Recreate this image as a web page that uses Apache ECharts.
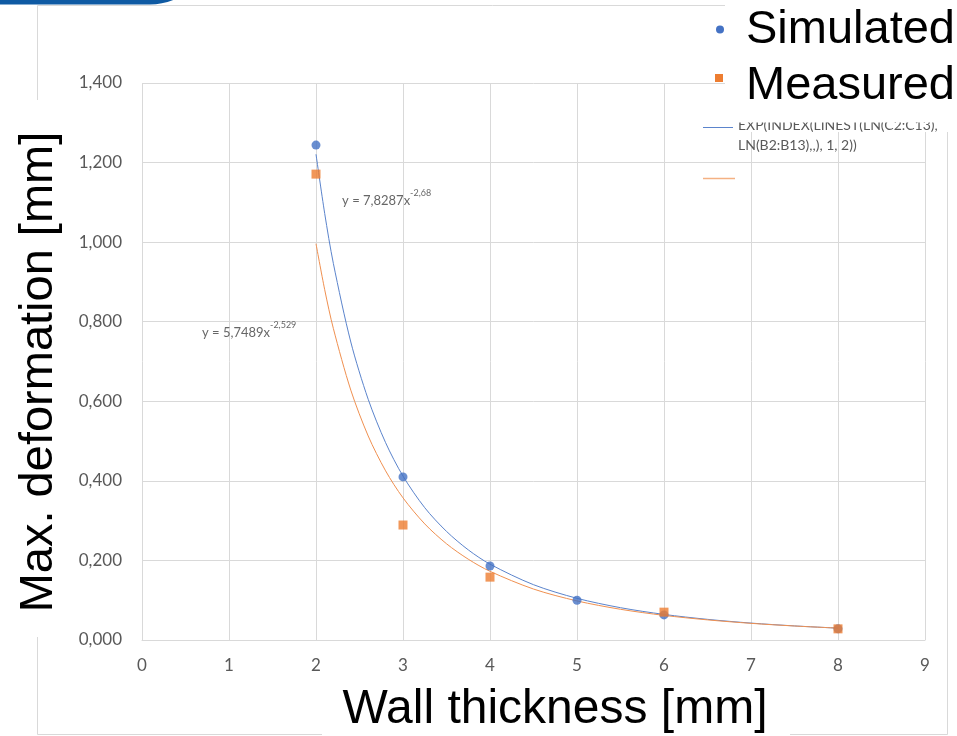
<!DOCTYPE html>
<html><head><meta charset="utf-8">
<script src="https://cdn.jsdelivr.net/npm/echarts@6/dist/echarts.min.js"></script>
<style>html,body{margin:0;padding:0;background:#fff}#c{width:957px;height:736px}</style>
</head><body><div id="c"></div>
<script>
// ---- data ----
const wallThickness = [2, 3, 4, 5, 6, 8];
const simulated = [1.244, 0.410, 0.186, 0.100, 0.063, 0.028];
const measuredX = [2, 3, 4, 6, 8];
const measured = [1.171, 0.289, 0.158, 0.070, 0.028];
const trendX = [2, 2.1, 2.2, 2.4, 2.6, 2.8, 3, 3.25, 3.5, 3.75, 4, 4.5, 5, 5.5, 6, 6.5, 7, 7.5, 8];
const trendSimulated = [1.221, 1.072, 0.946, 0.749, 0.605, 0.496, 0.412, 0.3325, 0.273, 0.2266, 0.1906, 0.139, 0.1048, 0.0812, 0.0643, 0.0519, 0.0425, 0.0354, 0.0298];
const trendMeasured = [0.996, 0.8805, 0.7826, 0.628, 0.5128, 0.4252, 0.3573, 0.2918, 0.2419, 0.2031, 0.1726, 0.1281, 0.0982, 0.0772, 0.0619, 0.0506, 0.0419, 0.0352, 0.0299];
const xTicks = [0, 1, 2, 3, 4, 5, 6, 7, 8, 9];
const yTicks = [0, 0.2, 0.4, 0.6, 0.8, 1.0, 1.2, 1.4];
const eqSimulated = { x: 2.30, y: 1.111, coef: '7,8287', exp: '-2,68' };
const eqMeasured = { x: 0.69, y: 0.779, coef: '5,7489', exp: '-2,529' };
const legendNames = ['Simulated', 'Measured'];
const trendLegendText = ['EXP(INDEX(LINEST(LN(C2:C13),', 'LN(B2:B13),,), 1, 2))'];
const xTitle = 'Wall thickness [mm]';
const yTitle = 'Max. deformation [mm]';

const BLUE = '#4472C4', ORANGE = '#ED7D31', GRID = '#d9d9d9', TICK = '#595959';
const FONT = 'Lato, "Open Sans", sans-serif';
const BIG = '"Liberation Sans", Arial, sans-serif';

const chart = echarts.init(document.getElementById('c'));
const zip = (xs, ys) => xs.map((x, i) => [x, ys[i]]);
const eqLabel = (e) => ({
  show: true, position: 'right', distance: 0,
  formatter: '{a|y = ' + e.coef + 'x}{b|' + e.exp + '}',
  rich: {
    a: { fontFamily: FONT, fontSize: 13, color: '#404040', verticalAlign: 'bottom', lineHeight: 18 },
    b: { fontFamily: FONT, fontSize: 9, color: '#404040', verticalAlign: 'top', lineHeight: 18 }
  }
});

chart.setOption({
  animation: false,
  backgroundColor: '#fff',
  grid: { left: 142, right: 32, top: 83, bottom: 96 },
  xAxis: {
    type: 'value', min: xTicks[0], max: xTicks[xTicks.length - 1], interval: 1,
    axisLine: { show: true, lineStyle: { color: GRID, width: 1 } },
    axisTick: { show: false },
    splitLine: { show: true, lineStyle: { color: GRID, width: 1 } },
    axisLabel: { color: TICK, fontFamily: FONT, fontSize: 17, margin: 17 }
  },
  yAxis: {
    type: 'value', min: yTicks[0], max: yTicks[yTicks.length - 1], interval: 0.2,
    axisLine: { show: false }, axisTick: { show: false },
    splitLine: { show: true, lineStyle: { color: GRID, width: 1 } },
    axisLabel: { color: TICK, fontFamily: FONT, fontSize: 17, margin: 20,
      formatter: v => v.toFixed(3).replace('.', ',') }
  },
  series: [
    { type: 'line', data: zip(trendX, trendSimulated), symbol: 'none', smooth: 0.3,
      lineStyle: { color: '#5b84cc', width: 1 }, z: 2 },
    { type: 'line', data: zip(trendX, trendMeasured), symbol: 'none', smooth: 0.3,
      lineStyle: { color: '#f09050', width: 1 }, z: 2 },
    { name: legendNames[0], type: 'scatter', data: zip(wallThickness, simulated),
      symbol: 'circle', symbolSize: 9, itemStyle: { color: BLUE }, z: 3 },
    { name: legendNames[1], type: 'scatter', data: zip(measuredX, measured),
      symbol: 'rect', symbolSize: 9, itemStyle: { color: ORANGE }, z: 4 },
    { type: 'scatter', data: [[eqSimulated.x, eqSimulated.y]], symbolSize: 0,
      label: eqLabel(eqSimulated), silent: true, z: 5 },
    { type: 'scatter', data: [[eqMeasured.x, eqMeasured.y]], symbolSize: 0,
      label: eqLabel(eqMeasured), silent: true, z: 5 }
  ],
  graphic: [
    // dark blue shape at top-left
    { type: 'rect', z: 10, shape: { x: -10, y: -100, width: 222, height: 104.5, r: [0, 0, 62, 0] },
      style: { fill: '#0f5aa3' } },
    // outer chart border
    { type: 'rect', z: 10, shape: { x: 37.5, y: 5.5, width: 910, height: 729 },
      style: { fill: 'none', stroke: GRID, lineWidth: 1 } },
    // white boxes behind overlaid texts
    { type: 'rect', z: 11, shape: { x: 10, y: 100, width: 58, height: 537 }, style: { fill: '#fff' } },
    { type: 'rect', z: 11, shape: { x: 322, y: 682, width: 468, height: 60 }, style: { fill: '#fff' } },
    { type: 'rect', z: 11, shape: { x: 725, y: -5, width: 240, height: 137 }, style: { fill: '#fff' } },
    // trendline legend
    { type: 'line', z: 12, shape: { x1: 703, y1: 127.5, x2: 733, y2: 127.5 }, style: { stroke: '#5b84cc', lineWidth: 1 } },
    { type: 'line', z: 12, shape: { x1: 703, y1: 178.5, x2: 735, y2: 178.5 }, style: { stroke: '#f4b183', lineWidth: 1.5 } },
    { type: 'text', z: 12, left: 738, top: 118, style: { text: trendLegendText[0], fill: TICK, font: '14px ' + FONT } },
    { type: 'text', z: 12, left: 738, top: 138, style: { text: trendLegendText[1], fill: TICK, font: '14px ' + FONT } },
    { type: 'rect', z: 13, shape: { x: 735, y: -5, width: 230, height: 127.5 }, style: { fill: '#fff' } },
    // big legend
    { type: 'circle', z: 14, shape: { cx: 720, cy: 29.5, r: 4 }, style: { fill: BLUE } },
    { type: 'rect', z: 14, shape: { x: 715, y: 74, width: 8, height: 8 }, style: { fill: ORANGE } },
    { type: 'text', z: 14, x: 746, y: 30, style: { text: legendNames[0], fill: '#000', font: '47px ' + BIG, textVerticalAlign: 'middle' } },
    { type: 'text', z: 14, x: 746, y: 86, style: { text: legendNames[1], fill: '#000', font: '47px ' + BIG, textVerticalAlign: 'middle' } },
    // axis titles
    { type: 'text', z: 14, x: 555, y: 710, style: { text: xTitle, fill: '#000', font: '48px ' + BIG, textAlign: 'center', textVerticalAlign: 'middle' } },
    { type: 'text', z: 14, x: 39, y: 372, rotation: Math.PI / 2, style: { text: yTitle, fill: '#000', font: '47px ' + BIG, textAlign: 'center', textVerticalAlign: 'middle' } }
  ]
});
</script></body></html>
